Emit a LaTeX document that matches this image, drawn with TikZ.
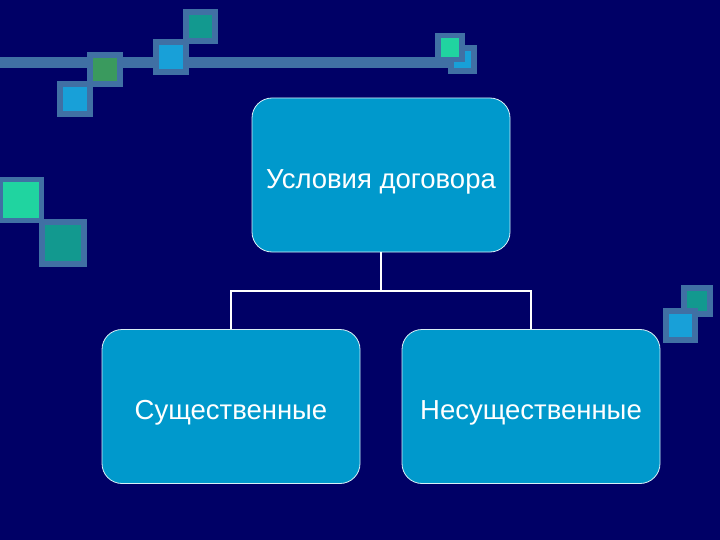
\documentclass[tikz,border=0pt]{standalone}
\usepackage{fontspec}
\setmainfont{Liberation Sans}
\definecolor{bg}{HTML}{000066}
\definecolor{edge}{HTML}{4070A4}
\definecolor{boxblue}{HTML}{0099CC}
\definecolor{sqblue}{HTML}{18A0D8}
\definecolor{sqgreen}{HTML}{3A9A5E}
\definecolor{sqteal}{HTML}{12998F}
\definecolor{sqmint}{HTML}{20D4A0}
\tikzset{
  box/.style={rectangle, rounded corners=20pt, fill=boxblue, draw=white!85!boxblue, line width=0.8pt,
    minimum width=258pt, minimum height=154pt},
  lbl/.style={text=white, font=\fontsize{27.5}{32}\selectfont, anchor=base},
  conn/.style={draw=white, line width=1.5pt},
}
\newcommand{\decosq}[5]{% x1 y1 x2 y2 colour (outer), inset 6
  \fill[edge] (#1,#2) rectangle (#3,#4);
  \fill[#5] ({#1+6},{#2+6}) rectangle ({#3-6},{#4-6});
}
\begin{document}
\begin{tikzpicture}[x=1pt,y=-1pt]
\fill[bg] (0,0) rectangle (720,540);
\useasboundingbox (0,0) rectangle (720,540);
% decorative line
\fill[edge] (0,57) rectangle (450,68);
% squares
\decosq{183}{9}{218}{44}{sqteal}
\decosq{153}{39}{189}{75}{sqblue}
\decosq{87}{52}{123}{87}{sqgreen}
\decosq{57}{81}{93}{117}{sqblue}
\decosq{448}{45}{477}{74}{sqblue}
\fill[edge] (435,33) rectangle (465,62);
\fill[sqmint] (441,38) rectangle (459,57);
\fill[edge] (0,177) rectangle (44,223);
\fill[sqmint] (3,182) rectangle (39,218);
\decosq{39}{219}{87}{267}{sqteal}
\decosq{681}{285}{713}{317}{sqteal}
\decosq{663}{308}{698}{343}{sqblue}
% boxes
\node[box] (top) at (381,175) {};
\node[box] (l) at (231,406.5) {};
\node[box] (r) at (531,406.5) {};
\node[lbl] (tt) at (381,189) {Условия договора};
\node[lbl] (lt) at (231,419) {Существенные};
\node[lbl] (rt) at (531,419) {Несущественные};
\coordinate (j) at (381,291);
\draw[conn] (top.south) -- (j);
\draw[conn] (j) -| (l.north);
\draw[conn] (j) -| (r.north);
\end{tikzpicture}
\end{document}
